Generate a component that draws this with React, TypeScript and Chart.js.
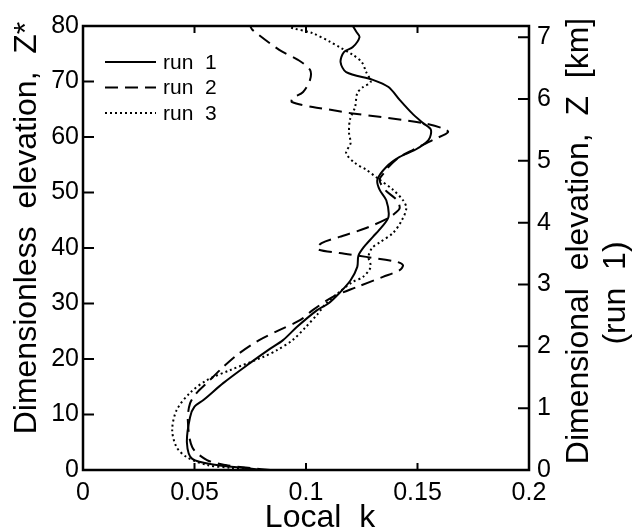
import React, { useEffect, useRef } from "react";
import { Chart, registerables } from "chart.js";

Chart.register(...registerables);

const FONT = '"Liberation Sans", Arial, Helvetica, sans-serif';

// ---- data (Z* = dimensionless elevation, k = local k) ----
const run1Z = [0, 0.4, 0.9, 2, 4.9, 9.5, 11.4, 12.6, 15.7, 19.3, 21.6, 23.4, 25.8, 28.8, 30, 31.9, 34.2, 36.6, 38.6, 40.2, 42, 43.8, 45.6, 48.6, 50.5, 52.3, 54.6, 56.4, 57.7, 59.5, 61.3, 62.5, 64.3, 66.7, 69, 70.3, 71.7, 73.5, 75.3, 76.2, 78, 79, 80];
const run1K = [0.08, 0.072, 0.06, 0.049, 0.0466, 0.048, 0.05, 0.054, 0.063, 0.075, 0.083, 0.0897, 0.096, 0.105, 0.11, 0.115, 0.12, 0.123, 0.1235, 0.126, 0.13, 0.134, 0.137, 0.136, 0.133, 0.132, 0.136, 0.142, 0.149, 0.155, 0.156, 0.1525, 0.1475, 0.142, 0.137, 0.13, 0.118, 0.1155, 0.117, 0.121, 0.124, 0.1225, 0.121];

const run2Z = [0, 0.4, 0.9, 1.8, 4.1, 9, 12, 13.9, 15.7, 18.6, 21, 23.4, 25.2, 27, 28.8, 31.2, 33, 34.8, 36, 36.9, 37.5, 38.4, 39.1, 39.8, 40.9, 42, 43.6, 45.4, 46.3, 47.2, 48.6, 50.5, 52.3, 54, 54.6, 56.4, 57.7, 59.5, 61, 62.5, 64.3, 64.9, 65.4, 66.3, 67, 68.1, 70.3, 72.1, 73.9, 75.7, 79.3, 80];
const run2K = [0.084, 0.074, 0.064, 0.0556, 0.049, 0.047, 0.048, 0.051, 0.0556, 0.063, 0.07, 0.079, 0.088, 0.0973, 0.103, 0.112, 0.123, 0.1345, 0.142, 0.1435, 0.1408, 0.127, 0.115, 0.105, 0.107, 0.115, 0.127, 0.137, 0.14, 0.142, 0.1408, 0.1354, 0.133, 0.136, 0.137, 0.142, 0.148, 0.157, 0.1637, 0.1525, 0.12, 0.111, 0.103, 0.0937, 0.094, 0.0987, 0.1018, 0.1018, 0.0964, 0.088, 0.076, 0.075];

const run3Z = [0, 0.4, 0.9, 2.3, 4.1, 7.2, 10.8, 13.9, 16.2, 18, 20.4, 21.6, 23.4, 25.8, 28, 30, 32.1, 33.9, 34.8, 36.6, 38.4, 40, 41, 42.7, 45, 47.2, 48.6, 50.5, 52.6, 54.1, 55.3, 57.1, 58.9, 60.7, 63.1, 65.4, 67.9, 69, 69.9, 71.7, 73.5, 74.8, 76.2, 77.1, 78.7, 79.6, 80];
const run3K = [0.079, 0.066, 0.0556, 0.0466, 0.042, 0.04, 0.042, 0.048, 0.0556, 0.066, 0.081, 0.087, 0.094, 0.1, 0.105, 0.109, 0.115, 0.121, 0.1256, 0.129, 0.128, 0.1296, 0.133, 0.139, 0.143, 0.145, 0.1435, 0.139, 0.132, 0.127, 0.122, 0.118, 0.12, 0.1193, 0.1197, 0.122, 0.123, 0.1256, 0.129, 0.127, 0.125, 0.121, 0.115, 0.111, 0.103, 0.0942, 0.092];

const seriesLabels = ["run  1", "run  2", "run  3"];
const xTickValues = [0, 0.05, 0.1, 0.15, 0.2];
const xTickLabels = ["0", "0.05", "0.1", "0.15", "0.2"];
const yTickValues = [0, 10, 20, 30, 40, 50, 60, 70, 80];
const zKmTickValues = [0, 1, 2, 3, 4, 5, 6, 7];
const zStarMax = 80;
const zKmMax = 7.18;

const xTitle = "Local  k";
const yTitle = "Dimensionless  elevation,  Z*";
const y2Title = ["Dimensional  elevation,  Z  [km]", "(run  1)"];

function toPoints(k: number[], z: number[]) {
  return k.map((v, i) => ({ x: v, y: z[i] }));
}

const decorPlugin = {
  id: "decor",
  afterDraw(chart: any) {
    const { ctx, chartArea } = chart;
    const { left, right, top, bottom } = chartArea;
    const xs = chart.scales.x;
    const ys = chart.scales.y;
    const y2s = chart.scales.y2;
    ctx.save();
    ctx.strokeStyle = "#000";
    ctx.lineWidth = 2;
    ctx.setLineDash([]);
    ctx.beginPath();
    xTickValues.forEach((v) => {
      const p = xs.getPixelForValue(v);
      ctx.moveTo(p, bottom);
      ctx.lineTo(p, bottom - 7);
      ctx.moveTo(p, top);
      ctx.lineTo(p, top + 7);
    });
    yTickValues.forEach((v) => {
      const p = ys.getPixelForValue(v);
      ctx.moveTo(left, p);
      ctx.lineTo(left + 11, p);
    });
    zKmTickValues.forEach((v) => {
      const p = y2s.getPixelForValue(v);
      ctx.moveTo(right, p);
      ctx.lineTo(right - 11, p);
    });
    ctx.stroke();
    ctx.lineWidth = 2.5;
    ctx.strokeRect(left, top, right - left, bottom - top);

    // legend
    ctx.font = `21px ${FONT}`;
    ctx.fillStyle = "#000";
    ctx.textAlign = "left";
    ctx.textBaseline = "middle";
    chart.data.datasets.forEach((ds: any, i: number) => {
      const ly = top + 36 + i * 25.5;
      ctx.lineWidth = ds.borderWidth;
      ctx.setLineDash(ds.borderDash || []);
      ctx.beginPath();
      ctx.moveTo(left + 22, ly);
      ctx.lineTo(left + 73, ly);
      ctx.stroke();
      ctx.fillText(ds.label, left + 80, ly + 1);
    });
    ctx.setLineDash([]);

    // axis titles
    ctx.font = `32px ${FONT}`;
    ctx.textAlign = "center";
    ctx.textBaseline = "alphabetic";
    ctx.fillText(xTitle, 320, 527);

    ctx.save();
    ctx.translate(36, 228);
    ctx.rotate(-Math.PI / 2);
    ctx.fillText(yTitle, 0, 0);
    ctx.restore();

    ctx.save();
    ctx.translate(588, 241);
    ctx.rotate(-Math.PI / 2);
    ctx.fillText(y2Title[0], 0, 0);
    ctx.restore();

    ctx.save();
    ctx.translate(625, 293);
    ctx.rotate(-Math.PI / 2);
    ctx.fillText(y2Title[1], 0, 0);
    ctx.restore();

    ctx.restore();
  },
};

export default function App() {
  const ref = useRef<HTMLCanvasElement | null>(null);

  useEffect(() => {
    document.body.style.margin = "0";
    const canvas = ref.current;
    if (!canvas) return;
    const tickFont = { family: FONT, size: 25 };
    const chart = new Chart(canvas, {
      type: "scatter",
      data: {
        datasets: [
          {
            label: seriesLabels[0],
            data: toPoints(run1K, run1Z),
            showLine: true,
            borderColor: "#000",
            borderWidth: 2,
            borderDash: [],
            pointRadius: 0,
            tension: 0.3,
          },
          {
            label: seriesLabels[1],
            data: toPoints(run2K, run2Z),
            showLine: true,
            borderColor: "#000",
            borderWidth: 2,
            borderDash: [13, 7],
            pointRadius: 0,
            tension: 0.3,
          },
          {
            label: seriesLabels[2],
            data: toPoints(run3K, run3Z),
            showLine: true,
            borderColor: "#000",
            borderWidth: 2,
            borderDash: [2, 3],
            pointRadius: 0,
            tension: 0.3,
          },
        ] as any,
      },
      options: {
        animation: false,
        responsive: false,
        maintainAspectRatio: false,
        layout: { padding: { top: 26, left: 0, right: 0, bottom: 0 } },
        plugins: {
          legend: { display: false },
          tooltip: { enabled: false },
          title: { display: false },
        },
        scales: {
          x: {
            type: "linear",
            position: "bottom",
            min: 0,
            max: 0.2,
            afterBuildTicks: (s: any) => {
              s.ticks = xTickValues.map((v) => ({ value: v }));
            },
            afterFit: (s: any) => {
              s.height = 60;
            },
            grid: { display: false, drawTicks: false },
            border: { display: false },
            ticks: {
              color: "#000",
              font: tickFont,
              padding: 8,
              maxRotation: 0,
              autoSkip: false,
              callback: (v: any) => {
                const i = xTickValues.indexOf(Number(v));
                return i >= 0 ? xTickLabels[i] : "";
              },
            },
          },
          y: {
            type: "linear",
            position: "left",
            min: 0,
            max: zStarMax,
            afterBuildTicks: (s: any) => {
              s.ticks = yTickValues.map((v) => ({ value: v }));
            },
            afterFit: (s: any) => {
              s.width = 83;
            },
            grid: { display: false, drawTicks: false },
            border: { display: false },
            ticks: { color: "#000", font: tickFont, padding: 4, autoSkip: false },
          },
          y2: {
            type: "linear",
            position: "right",
            min: 0,
            max: zKmMax,
            afterBuildTicks: (s: any) => {
              s.ticks = zKmTickValues.map((v) => ({ value: v }));
            },
            afterFit: (s: any) => {
              s.width = 104;
            },
            grid: { display: false, drawTicks: false },
            border: { display: false },
            ticks: { color: "#000", font: tickFont, padding: 8, autoSkip: false },
          },
        },
      } as any,
      plugins: [decorPlugin],
    });
    return () => chart.destroy();
  }, []);

  return (
    <div style={{ width: 633, height: 530, position: "relative" }}>
      <canvas ref={ref} width={633} height={530} style={{ display: "block" }} />
    </div>
  );
}
